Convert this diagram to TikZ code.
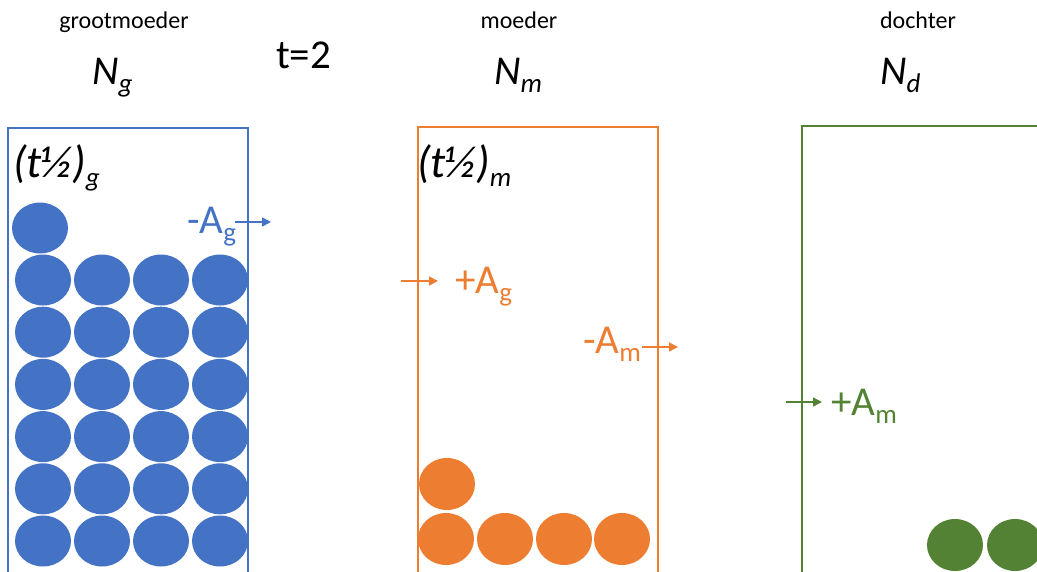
\documentclass[tikz,border=0pt]{standalone}
\usepackage{fontspec}
\setmainfont{Carlito}
\usetikzlibrary{arrows.meta}
\definecolor{pblue}{HTML}{4472C4}
\definecolor{porange}{HTML}{ED7D31}
\definecolor{pgreen}{HTML}{548235}
\newcommand\subtxt[1]{\raisebox{-0.2em}{\fontsize{27}{30}\selectfont #1}}
\tikzset{
  big/.style={font=\fontsize{41}{48}\selectfont, inner sep=0pt, anchor=base west},
  half/.style={font=\fontsize{45}{52}\selectfont, inner sep=0pt, anchor=base west},
  small/.style={font=\fontsize{24}{28}\selectfont, inner sep=0pt, anchor=base},
  boxline/.style={line width=1.2pt},
  flow/.style={line width=1.5pt, -{Triangle[length=9pt,width=9pt]}},
}
\begin{document}
\begin{tikzpicture}[x=1pt,y=-1pt]
\useasboundingbox (0,0) rectangle (1037,571);
\clip (0,0) rectangle (1037,571);
% headers
\node[small] (lg) at (124,28) {grootmoeder};
\node[small] (lm) at (519,28) {moeder};
\node[small] (ld) at (918,28) {dochter};
\node[big] (ng) at (92,84) {\itshape N\subtxt{g}};
\node[big] (nm) at (494,84) {\itshape N\subtxt{m}};
\node[big] (nd) at (880,84) {\itshape N\subtxt{d}};
\node[big, font=\fontsize{41}{48}\selectfont] (time) at (276,68) {t=2};
% boxes
\draw[boxline, pblue] (8,590) -- (8,128) -- (248,128) -- (248,590);
\draw[boxline, porange] (418,590) -- (418,127) -- (658,127) -- (658,590);
\draw[boxline, pgreen] (802,590) -- (802,126) -- (1050,126);
\node[half] (hg) at (13,177) {\itshape (t½)\subtxt{g}};
\node[half] (hm) at (417,177) {\itshape (t½)\subtxt{m}};
% blue atoms
\fill[pblue] (40,228) ellipse [x radius=28pt, y radius=25.5pt];
\foreach \yy in {280,332.2,384.4,436.6,488.8,541} {
  \foreach \xx in {43,102,161,220} {
    \fill[pblue] (\xx,\yy) ellipse [x radius=28pt, y radius=25.5pt];
  }
}
% orange atoms
\fill[porange] (447,484) ellipse [x radius=28pt, y radius=26pt];
\foreach \xx in {446,505,564,622} {
  \fill[porange] (\xx,539) ellipse [x radius=28pt, y radius=26pt];
}
% green atoms
\fill[pgreen] (955,545) ellipse [x radius=28pt, y radius=26pt];
\fill[pgreen] (1015,545) ellipse [x radius=28pt, y radius=26pt];
% flows
\node[big, text=pblue] (outg) at (187,233) {-A\subtxt{g}};
\coordinate (og1) at (235,222); \coordinate (og2) at (271,222);
\draw[flow, pblue] (og1) -- (og2);
\node[big, text=porange] (ing) at (455,293) {+A\subtxt{g}};
\coordinate (ig1) at (401,281); \coordinate (ig2) at (438,281);
\draw[flow, porange] (ig1) -- (ig2);
\node[big, text=porange] (outm) at (583,353) {-A\subtxt{m}};
\coordinate (om1) at (642,347); \coordinate (om2) at (678,347);
\draw[flow, porange] (om1) -- (om2);
\node[big, text=pgreen] (inm) at (831,415) {+A\subtxt{m}};
\coordinate (im1) at (786,402); \coordinate (im2) at (822,402);
\draw[flow, pgreen] (im1) -- (im2);
\end{tikzpicture}
\end{document}
